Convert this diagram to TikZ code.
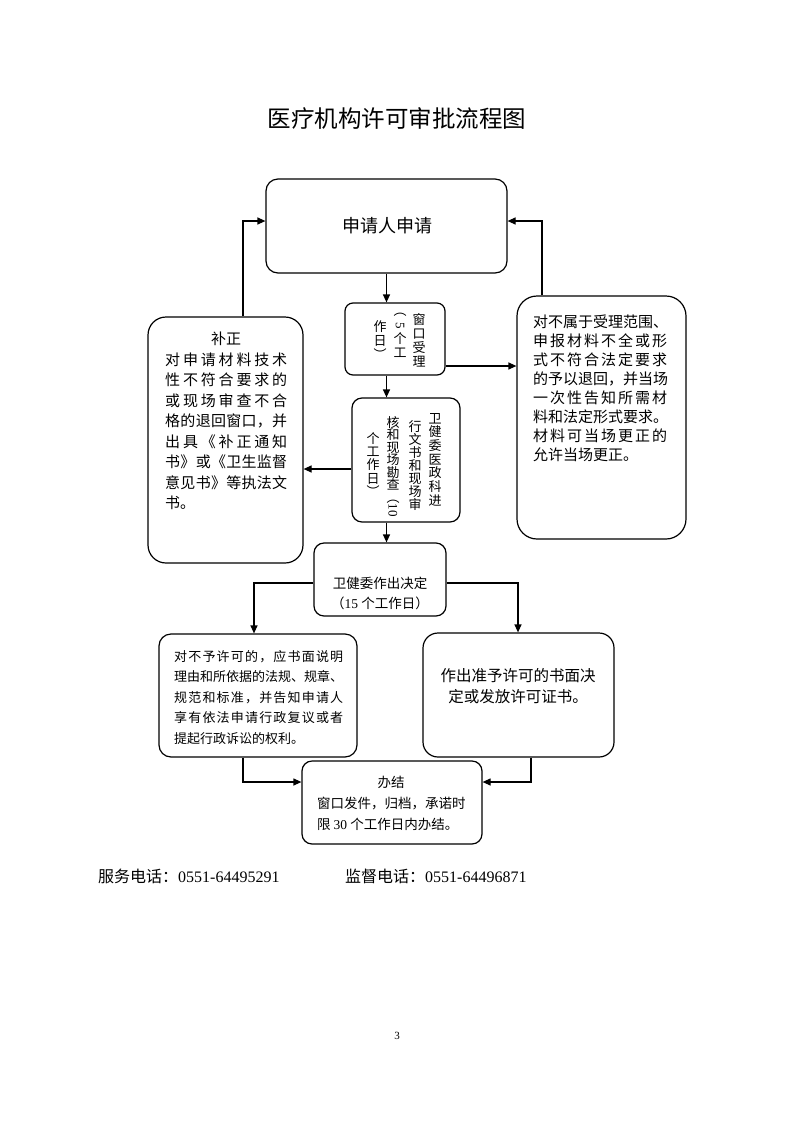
\documentclass[tikz,border=0pt]{standalone}
\usepackage{fontspec}
\setmainfont{Noto Sans CJK SC}
\newfontfamily\lat{Liberation Serif}
\usetikzlibrary{arrows.meta}
\def\jl#1#2{\makebox[#1][s]{\jlfirst#2\relax}}
\def\jlfirst#1{#1\jlrest}
\def\jlrest#1{\ifx#1\relax\else\hfil#1\expandafter\jlrest\fi}
\newcommand\rd[1]{\rotatebox[origin=c]{-90}{\lat #1}}
\begin{document}
\begin{tikzpicture}[x=1pt,y=-1pt,
  box/.style={draw, line width=1.2pt, inner sep=0pt, rounded corners=#1},
  box/.default=10pt,
  arr/.style={line width=1.2pt, -{Triangle[length=8pt,width=7pt]}},
  txt/.style={inner sep=0pt},
  vt/.style={inner sep=0pt, align=center, anchor=north},
]
\useasboundingbox[fill=white] (0,0) rectangle (793,1122);

% title
\node[txt, anchor=base, font=\fontsize{23.5}{28}\selectfont] (title) at (397,127) {医疗机构许可审批流程图};

% boxes
\node[box=12pt, minimum width=241pt, minimum height=94pt] (A) at (386.5,226) {};
\node[box=8pt,  minimum width=100pt, minimum height=72pt] (B) at (395,339) {};
\node[box=10pt, minimum width=108pt, minimum height=124pt] (C) at (406,460) {};
\node[box=18pt, minimum width=155pt, minimum height=246pt] (D) at (225.5,440) {};
\node[box=20pt, minimum width=169pt, minimum height=243pt] (E) at (601.5,417.5) {};
\node[box=10pt, minimum width=132pt, minimum height=73pt] (F) at (380,579.5) {};
\node[box=12pt, minimum width=198pt, minimum height=123pt] (G) at (258,695.5) {};
\node[box=15pt, minimum width=191pt, minimum height=124pt] (H) at (518.5,695) {};
\node[box=10pt, minimum width=180pt, minimum height=83pt] (I) at (392,802.5) {};

% texts
\node[txt, anchor=base, font=\fontsize{18}{22}\selectfont] (At) at (387,232.8) {申请人申请};

\node[vt, font=\fontsize{13}{14}\selectfont] (B1) at (419,313) {窗\\口\\受\\理};
\node[vt, font=\fontsize{13}{14}\selectfont] (B2) at (400,313) {︵\\\rd{5}\\个\\工};
\node[vt, font=\fontsize{13}{14}\selectfont] (B3) at (380,320) {作\\日\\︶};

\node[vt, font=\fontsize{13}{13.7}\selectfont] (C1) at (435,413) {卫\\健\\委\\医\\政\\科\\进};
\node[vt, font=\fontsize{13}{13}\selectfont] (C2) at (415,420) {行\\文\\书\\和\\现\\场\\审};
\node[vt, font=\fontsize{13}{12.5}\selectfont] (C3) at (393,416) {核\\和\\现\\场\\勘\\查\\︵\\\rd{10}};
\node[vt, font=\fontsize{13}{13.3}\selectfont] (C4) at (373,432) {个\\工\\作\\日\\︶};

\node[txt, anchor=base west, align=left, font=\fontsize{15}{20.5}\selectfont] (Dt) at (165,508.7)
 {\makebox[122pt]{补正}\\
  \jl{122pt}{对申请材料技术}\\
  \jl{122pt}{性不符合要求的}\\
  \jl{122pt}{或现场审查不合}\\
  \jl{122pt}{格的退回窗口，并}\\
  \jl{122pt}{出具《补正通知}\\
  \jl{122pt}{书》或《卫生监督}\\
  \jl{122pt}{意见书》等执法文}\\
  书。};

\node[txt, anchor=base west, align=left, font=\fontsize{15}{18.9}\selectfont] (Et) at (533,460)
 {\jl{134pt}{对不属于受理范围、}\\
  \jl{134pt}{申报材料不全或形}\\
  \jl{134pt}{式不符合法定要求}\\
  \jl{134pt}{的予以退回，并当场}\\
  \jl{134pt}{一次性告知所需材}\\
  \jl{134pt}{料和法定形式要求。}\\
  \jl{134pt}{材料可当场更正的}\\
  允许当场更正。};

\node[txt, anchor=base, align=center, font=\fontsize{13.5}{20}\selectfont] (Ft) at (380,608)
 {卫健委作出决定\\（{\lat 15} 个工作日）};

\node[txt, anchor=base west, align=left, font=\fontsize{13}{20.5}\selectfont] (Gt) at (174,743)
 {\jl{169pt}{对不予许可的，应书面说明}\\
  \jl{169pt}{理由和所依据的法规、规章、}\\
  \jl{169pt}{规范和标准，并告知申请人}\\
  \jl{169pt}{享有依法申请行政复议或者}\\
  提起行政诉讼的权利。};

\node[txt, anchor=base, align=center, font=\fontsize{15.5}{21}\selectfont] (Ht) at (518,702)
 {作出准予许可的书面决\\定或发放许可证书。};

\node[txt, anchor=base west, align=left, font=\fontsize{13.5}{21}\selectfont] (It) at (317,829)
 {\makebox[148pt]{办结}\\
  \jl{148pt}{窗口发件，归档，承诺时}\\
  限 {\lat 30} 个工作日内办结。};

% connectors
\draw[arr] (A.south) -- (A.south |- B.north);
\draw[arr] (A.south |- B.south) -- (A.south |- C.north);
\draw[arr] (A.south |- C.south) -- (A.south |- F.north);
\draw[arr] (B.east |- 0,366) -- (E.west |- 0,366);
\draw[arr] (C.west |- 0,469) -- (D.east |- 0,469);
\draw[arr] (D.north -| 243,0) |- (A.west |- 0,221);
\draw[arr] (E.north -| 542,0) |- (A.east |- 0,221);
\draw[arr] (F.west |- 0,583) -| (G.north -| 254,0);
\draw[arr] (F.east |- 0,583) -| (H.north -| 518,0);
\draw[arr] (G.south -| 243,0) |- (I.west |- 0,782);
\draw[arr] (H.south -| 531,0) |- (I.east |- 0,782);

% footer
\node[txt, anchor=base west, font=\fontsize{16}{20}\selectfont] (tel1) at (98,882) {服务电话：{\lat 0551-64495291}};
\node[txt, anchor=base west, font=\fontsize{16}{20}\selectfont] (tel2) at (345,882) {监督电话：{\lat 0551-64496871}};
\node[txt, anchor=base, font=\lat\fontsize{11}{13}\selectfont] (page) at (397,1039) {3};
\end{tikzpicture}
\end{document}
